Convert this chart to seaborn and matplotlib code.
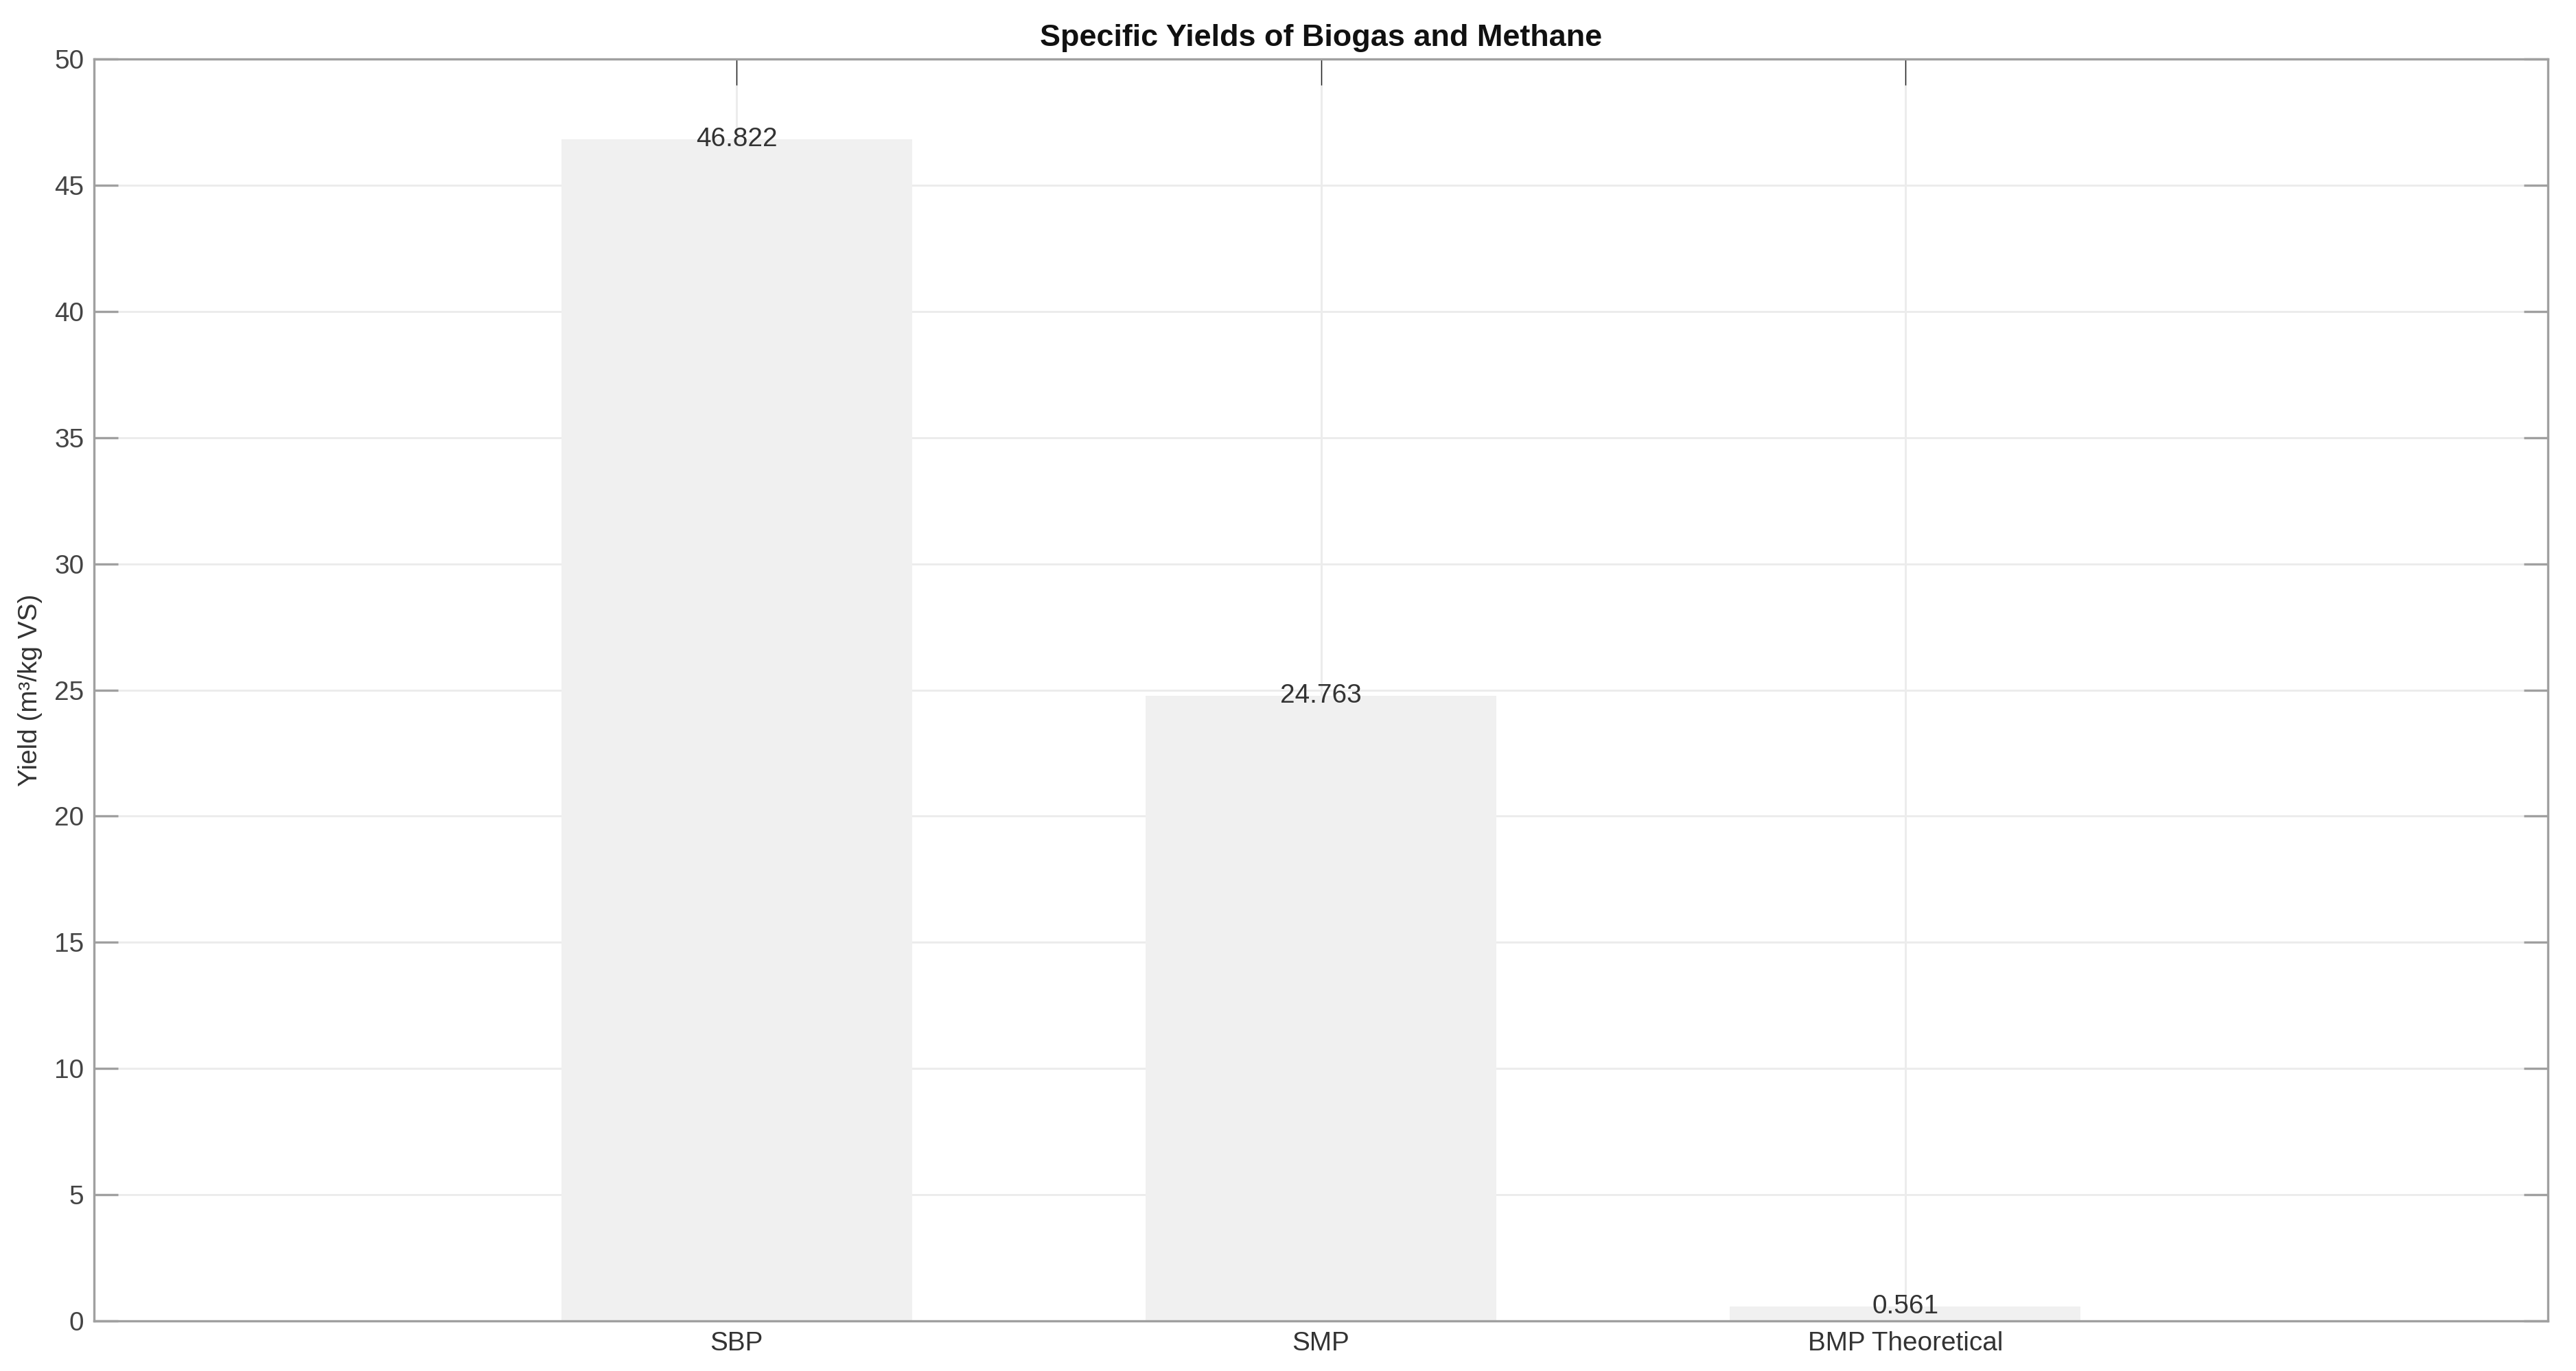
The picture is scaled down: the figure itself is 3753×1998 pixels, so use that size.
import matplotlib
matplotlib.use("Agg")
import matplotlib.pyplot as plt
import seaborn as sns
import pandas as pd

# ── Data ──────────────────────────────────────────────────────────────────────
categories = ["SBP", "SMP", "BMP Theoretical"]
yields     = [46.822, 24.763, 0.561]
y_ticks    = [0, 5, 10, 15, 20, 25, 30, 35, 40, 45, 50]

df = pd.DataFrame({"Category": categories, "Yield": yields})

# ── Style ─────────────────────────────────────────────────────────────────────
sns.set_theme(style="whitegrid")
plt.rcParams["font.family"] = ["Liberation Sans", "DejaVu Sans"]

SPINE = "#a0a0a0"
GRID  = "#ececec"
TEXT  = "#333333"

fig = plt.figure(figsize=(3753 / 300, 1998 / 300), dpi=300)
ax  = fig.add_axes([137 / 3753, 1 - 1925 / 1998, (3712 - 137) / 3753, (1925 - 86) / 1998])

sns.barplot(data=df, x="Category", y="Yield", color="#f0f0f0", saturation=1,
            width=0.6, edgecolor="none", linewidth=0, ax=ax, zorder=2)

for i, v in enumerate(yields):
    ax.text(i, v, f"{v:.3f}", ha="center", va="center", fontsize=9.3,
            color=TEXT, zorder=3)

ax.set_xlim(-1.1, 3.1)
ax.set_ylim(0, 50)
ax.set_yticks(y_ticks)

ax.set_title("Specific Yields of Biogas and Methane", fontsize=10.8,
             fontweight="bold", color="#111111", pad=4.5)
ax.set_xlabel("")
ax.set_ylabel("Yield (m³/kg VS)", fontsize=9.3, color=TEXT, labelpad=4)

ax.grid(True, color=GRID, linewidth=0.7, zorder=0)
ax.set_axisbelow(True)
for s in ax.spines.values():
    s.set_visible(True)
    s.set_color(SPINE)
    s.set_linewidth(0.8)

ax.tick_params(axis="x", direction="in", top=True, bottom=True, length=9,
               width=0.35, color="#222222", labelsize=9.3, labelcolor=TEXT, pad=3.5)
ax.tick_params(axis="y", direction="in", left=True, right=True, length=8.5,
               width=0.8, color=SPINE, labelsize=9.3, labelcolor="#444444", pad=3.5)

plt.savefig("out.png", dpi=300)
